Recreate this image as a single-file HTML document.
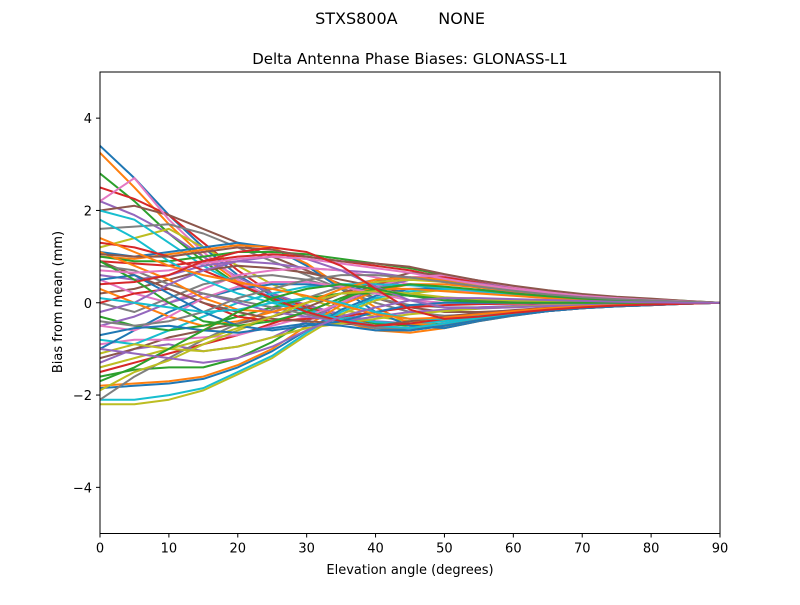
<!DOCTYPE html>
<html><head><meta charset="utf-8"><style>
body{margin:0;background:#fff;}
svg text{font-family:"DejaVu Sans","Liberation Sans",sans-serif;fill:#000;}
</style></head><body>
<svg id="chart" width="800" height="600" viewBox="0 0 800 600" xmlns="http://www.w3.org/2000/svg">
<rect width="800" height="600" fill="#fff"/>
<text x="400" y="24" font-size="16" text-anchor="middle" xml:space="preserve">STXS800A        NONE</text>
<text x="410" y="64" font-size="15" text-anchor="middle">Delta Antenna Phase Biases: GLONASS-L1</text>
<g id="lines"></g>
<g id="axes"></g>
<text x="410" y="574" font-size="13" text-anchor="middle">Elevation angle (degrees)</text>
<text transform="translate(62,302) rotate(-90)" font-size="13" text-anchor="middle">Bias from mean (mm)</text>
</svg>
<script>
const elevations=[0,5,10,15,20,25,30,35,40,45,50,55,60,65,70,75,80,85,90];
const xTicks=[0,10,20,30,40,50,60,70,80,90];
const yTicks=[-4,-2,0,2,4];
const colors=["#1f77b4","#ff7f0e","#2ca02c","#d62728","#9467bd","#8c564b","#e377c2","#7f7f7f","#bcbd22","#17becf"];
const s1=[3.4,2.7,1.9,1.2,0.6,0.15,-0.15,-0.35,-0.55,-0.6,-0.5,-0.38,-0.27,-0.18,-0.12,-0.08,-0.05,-0.02,0];
const s2=[3.25,2.5,1.7,1.0,0.45,0.05,-0.2,-0.4,-0.6,-0.65,-0.55,-0.4,-0.28,-0.18,-0.12,-0.08,-0.05,-0.02,0];
const s3=[2.8,2.2,1.5,0.9,0.4,0.05,-0.15,-0.3,-0.45,-0.5,-0.45,-0.35,-0.25,-0.16,-0.1,-0.07,-0.04,-0.02,0];
const s4=[2.5,2.25,1.9,1.3,0.7,0.2,-0.1,-0.3,-0.5,-0.55,-0.5,-0.38,-0.27,-0.18,-0.12,-0.08,-0.05,-0.02,0];
const s5=[2.2,1.9,1.5,1.0,0.55,0.2,-0.05,-0.25,-0.4,-0.45,-0.4,-0.3,-0.22,-0.15,-0.1,-0.06,-0.04,-0.02,0];
const s6=[2.0,2.1,1.9,1.6,1.3,1.0,0.7,0.4,0.1,-0.1,-0.2,-0.2,-0.17,-0.12,-0.08,-0.05,-0.03,-0.01,0];
const s7=[2.2,2.7,1.8,1.1,0.5,0.1,-0.2,-0.35,-0.5,-0.55,-0.45,-0.33,-0.24,-0.16,-0.1,-0.07,-0.04,-0.02,0];
const s8=[1.6,1.65,1.7,1.5,1.2,0.9,0.6,0.3,0.0,-0.2,-0.28,-0.25,-0.2,-0.14,-0.09,-0.06,-0.03,-0.01,0];
const s9=[1.2,1.4,1.6,1.2,0.8,0.4,0.1,-0.15,-0.3,-0.4,-0.38,-0.3,-0.22,-0.15,-0.1,-0.06,-0.04,-0.02,0];
const s10=[2.0,1.8,1.3,0.8,0.4,0.1,-0.15,-0.3,-0.42,-0.45,-0.4,-0.3,-0.22,-0.15,-0.1,-0.06,-0.04,-0.02,0];
const s11=[1.1,1.0,1.1,1.2,1.3,1.2,0.8,0.3,-0.2,-0.5,-0.55,-0.4,-0.28,-0.18,-0.12,-0.08,-0.05,-0.02,0];
const s12=[1.0,0.95,1.05,1.15,1.25,1.2,0.85,0.35,-0.1,-0.45,-0.5,-0.38,-0.27,-0.17,-0.11,-0.07,-0.04,-0.02,0];
const s13=[1.0,0.9,0.9,1.0,1.1,1.1,1.05,0.95,0.85,0.75,0.6,0.45,0.35,0.25,0.18,0.12,0.08,0.04,0];
const s14=[0.9,0.85,0.8,0.9,1.0,1.05,1.0,0.9,0.8,0.7,0.55,0.42,0.32,0.23,0.16,0.11,0.07,0.03,0];
const s15=[0.6,0.5,0.6,0.8,0.9,0.85,0.75,0.7,0.65,0.55,0.45,0.35,0.27,0.2,0.14,0.1,0.06,0.03,0];
const s16=[0.2,0.3,0.5,0.7,0.8,0.75,0.65,0.5,0.35,0.2,0.1,0.05,0.02,0,0,0,0,0,0];
const s17=[0.5,0.2,0.0,0.3,0.6,0.7,0.75,0.7,0.55,0.4,0.3,0.22,0.16,0.1,0.07,0.04,0.02,0.01,0];
const s18=[0.0,-0.2,0.1,0.4,0.55,0.6,0.5,0.3,0.1,-0.05,-0.1,-0.1,-0.08,-0.06,-0.04,-0.03,-0.02,-0.01,0];
const s19=[-2.2,-2.2,-2.1,-1.9,-1.55,-1.2,-0.7,-0.25,0.05,0.2,0.28,0.28,0.24,0.18,0.12,0.08,0.05,0.02,0];
const s20=[-2.1,-2.1,-2.0,-1.85,-1.5,-1.15,-0.65,-0.2,0.1,0.25,0.3,0.28,0.23,0.17,0.12,0.08,0.05,0.02,0];
const s21=[-1.85,-1.8,-1.75,-1.65,-1.4,-1.05,-0.6,-0.15,0.15,0.3,0.32,0.28,0.22,0.16,0.11,0.07,0.04,0.02,0];
const s22=[-1.8,-1.75,-1.7,-1.6,-1.35,-1.0,-0.5,-0.05,0.25,0.4,0.4,0.33,0.25,0.18,0.12,0.08,0.05,0.02,0];
const s23=[-1.6,-1.45,-1.4,-1.4,-1.2,-0.85,-0.4,0.05,0.35,0.5,0.48,0.4,0.3,0.21,0.14,0.09,0.05,0.02,0];
const s24=[-1.5,-1.3,-1.1,-0.9,-0.7,-0.45,-0.2,0.1,0.4,0.55,0.55,0.45,0.33,0.23,0.15,0.1,0.06,0.03,0];
const s25=[-1.3,-1.0,-0.9,-1.05,-0.95,-0.75,-0.4,0.0,0.3,0.5,0.5,0.42,0.32,0.22,0.15,0.1,0.06,0.03,0];
const s26=[-1.2,-1.0,-0.75,-0.6,-0.45,-0.3,-0.1,0.2,0.45,0.65,0.6,0.48,0.35,0.25,0.17,0.11,0.06,0.03,0];
const s27=[-0.9,-0.8,-0.8,-0.75,-0.7,-0.5,-0.3,0.0,0.35,0.55,0.6,0.48,0.35,0.25,0.17,0.11,0.06,0.03,0];
const s28=[-2.1,-1.6,-1.2,-0.8,-0.45,-0.15,0.1,0.35,0.5,0.55,0.5,0.4,0.3,0.21,0.14,0.09,0.05,0.02,0];
const s29=[-1.9,-1.5,-1.25,-0.9,-0.6,-0.3,0.0,0.3,0.45,0.5,0.45,0.36,0.27,0.19,0.13,0.08,0.05,0.02,0];
const s30=[-0.8,-0.9,-0.6,-0.3,0.0,0.2,0.35,0.4,0.4,0.38,0.32,0.25,0.19,0.13,0.09,0.06,0.03,0.01,0];
const s31=[-1.0,-0.6,-0.2,0.1,0.3,0.4,0.4,0.35,0.25,0.15,0.1,0.07,0.05,0.03,0.02,0.01,0,0,0];
const s32=[0.3,0.0,-0.3,-0.5,-0.4,-0.2,0.0,0.2,0.3,0.3,0.25,0.2,0.15,0.1,0.07,0.04,0.02,0.01,0];
const s33=[-0.3,-0.5,-0.6,-0.5,-0.3,-0.1,0.1,0.2,0.2,0.15,0.1,0.07,0.05,0.03,0.02,0.01,0,0,0];
const s34=[0.0,0.2,0.3,0.0,-0.3,-0.4,-0.35,-0.3,-0.2,-0.1,-0.05,-0.03,-0.02,-0.01,0,0,0,0,0];
const s35=[-0.5,-0.3,0.0,0.2,0.0,-0.2,-0.3,-0.4,-0.3,-0.2,-0.15,-0.1,-0.07,-0.05,-0.03,-0.02,-0.01,0,0];
const s36=[0.9,0.6,0.3,0.0,-0.2,-0.35,-0.4,-0.45,-0.5,-0.4,-0.3,-0.22,-0.16,-0.11,-0.07,-0.05,-0.03,-0.01,0];
const s37=[-0.5,-0.6,-0.3,0.1,0.35,0.45,0.45,0.35,0.2,0.05,0,0,0,0,0,0,0,0,0];
const s38=[0.8,0.7,0.4,0.2,0.05,-0.1,-0.25,-0.4,-0.55,-0.55,-0.45,-0.33,-0.24,-0.16,-0.1,-0.07,-0.04,-0.02,0];
const s39=[-1.1,-0.9,-1.0,-1.05,-0.95,-0.75,-0.55,-0.45,-0.35,-0.25,-0.18,-0.13,-0.09,-0.06,-0.04,-0.02,-0.01,0,0];
const s40=[1.8,1.4,0.9,0.5,0.2,0.0,-0.2,-0.35,-0.5,-0.55,-0.45,-0.33,-0.24,-0.16,-0.1,-0.07,-0.04,-0.02,0];
const s41=[0.5,0.6,0.2,-0.2,-0.5,-0.6,-0.5,-0.4,-0.2,-0.05,0,0,0,0,0,0,0,0,0];
const s42=[1.1,0.8,0.5,0.1,-0.15,-0.2,0.0,0.3,0.5,0.55,0.5,0.4,0.3,0.2,0.14,0.09,0.05,0.02,0];
const s43=[0.9,0.5,0.0,-0.4,-0.5,-0.4,-0.2,0.1,0.3,0.4,0.35,0.28,0.2,0.14,0.09,0.06,0.03,0.01,0];
const s44=[1.3,1.2,1.0,0.7,0.4,0.1,-0.2,-0.4,-0.5,-0.45,-0.35,-0.25,-0.18,-0.12,-0.08,-0.05,-0.03,-0.01,0];
const s45=[-0.2,0.0,0.4,0.7,0.9,1.0,0.95,0.7,0.35,0.05,-0.1,-0.12,-0.1,-0.07,-0.05,-0.03,-0.02,-0.01,0];
const s46=[1.05,1.0,1.0,1.1,1.2,1.15,1.0,0.9,0.85,0.78,0.62,0.48,0.37,0.27,0.19,0.13,0.09,0.04,0];
const s47=[0.7,0.65,0.7,0.85,0.95,1.0,0.95,0.85,0.75,0.65,0.52,0.4,0.3,0.22,0.15,0.1,0.06,0.03,0];
const s48=[-0.4,-0.5,-0.4,-0.2,0.1,0.3,0.5,0.6,0.6,0.55,0.45,0.35,0.26,0.18,0.12,0.08,0.05,0.02,0];
const s49=[-1.4,-1.2,-1.0,-0.8,-0.55,-0.3,0.0,0.2,0.25,0.2,0.12,0.08,0.05,0.03,0.02,0.01,0,0,0];
const s50=[0.1,0.0,-0.1,-0.2,-0.15,0.0,0.1,0.0,-0.2,-0.35,-0.35,-0.28,-0.2,-0.14,-0.09,-0.06,-0.03,-0.01,0];
const s51=[-0.7,-0.55,-0.5,-0.6,-0.65,-0.55,-0.45,-0.5,-0.6,-0.6,-0.5,-0.38,-0.27,-0.18,-0.12,-0.08,-0.05,-0.02,0];
const s52=[1.4,1.1,0.8,0.6,0.45,0.3,0.15,-0.05,-0.25,-0.35,-0.32,-0.25,-0.18,-0.12,-0.08,-0.05,-0.03,-0.01,0];
const s53=[-1.7,-1.4,-1.0,-0.6,-0.2,0.1,0.3,0.4,0.3,0.15,0.05,0.02,0,0,0,0,0,0,0];
const s54=[0.4,0.45,0.6,0.9,1.1,1.2,1.1,0.8,0.3,-0.15,-0.35,-0.3,-0.22,-0.15,-0.1,-0.06,-0.04,-0.02,0];
const s55=[-1.0,-1.1,-1.2,-1.3,-1.2,-0.95,-0.6,-0.3,-0.1,0.05,0.1,0.1,0.08,0.06,0.04,0.02,0.01,0,0];
const series=[s1,s2,s3,s4,s5,s6,s7,s8,s9,s10,s11,s12,s13,s14,s15,s16,s17,s18,s19,s20,s21,s22,s23,s24,s25,s26,s27,s28,s29,s30,s31,s32,s33,s34,s35,s36,s37,s38,s39,s40,s41,s42,s43,s44,s45,s46,s47,s48,s49,s50,s51,s52,s53,s54,s55];

const L=100,R=720,T=72,B=533.5;
const xs=v=>L+(v-0)/(90-0)*(R-L);
const ys=v=>B-(v+5)/10*(B-T);
const NS="http://www.w3.org/2000/svg";
const lg=document.getElementById('lines');
series.forEach((s,i)=>{
  const p=document.createElementNS(NS,'polyline');
  p.setAttribute('points',s.map((v,j)=>xs(elevations[j]).toFixed(1)+','+ys(v).toFixed(1)).join(' '));
  p.setAttribute('fill','none');p.setAttribute('stroke',colors[i%10]);p.setAttribute('stroke-width','2');
  p.setAttribute('stroke-linejoin','round');
  
  
  lg.appendChild(p);
});
const ag=document.getElementById('axes');
const fr=document.createElementNS(NS,'rect');
fr.setAttribute('x',L);fr.setAttribute('y',T);fr.setAttribute('width',R-L);fr.setAttribute('height',B-T);
fr.setAttribute('fill','none');fr.setAttribute('stroke','#000');fr.setAttribute('stroke-width','1');


ag.appendChild(fr);
xTicks.forEach(t=>{
  const x=xs(t);
  const l=document.createElementNS(NS,'line');
  l.setAttribute('x1',x);l.setAttribute('x2',x);l.setAttribute('y1',B);l.setAttribute('y2',B+4);l.setAttribute('stroke','#000');
  
  
  ag.appendChild(l);
  const tx=document.createElementNS(NS,'text');
  tx.setAttribute('x',x);tx.setAttribute('y',B+19);tx.setAttribute('font-size','13');tx.setAttribute('text-anchor','middle');
  tx.textContent=t;
  
  
  ag.appendChild(tx);
});
yTicks.forEach(t=>{
  const y=ys(t);
  const l=document.createElementNS(NS,'line');
  l.setAttribute('x1',L-4);l.setAttribute('x2',L);l.setAttribute('y1',y);l.setAttribute('y2',y);l.setAttribute('stroke','#000');
  
  
  ag.appendChild(l);
  const tx=document.createElementNS(NS,'text');
  tx.setAttribute('x',L-8);tx.setAttribute('y',y+5);tx.setAttribute('font-size','13');tx.setAttribute('text-anchor','end');
  tx.textContent=t<0?'\u2212'+Math.abs(t):String(t);
  
  
  ag.appendChild(tx);
});
</script>
</body></html>
